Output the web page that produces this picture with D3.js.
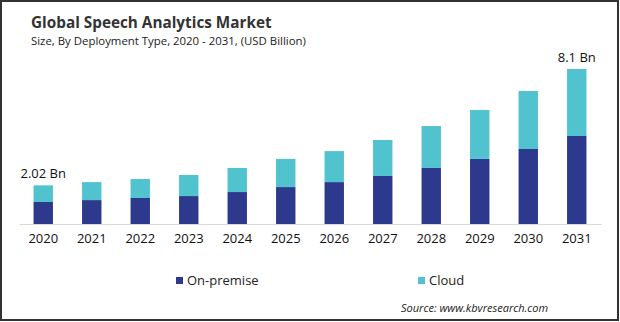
<!DOCTYPE html>
<html>
<head>
<meta charset="utf-8">
<script src="https://cdn.jsdelivr.net/npm/d3@7"></script>
<style>
  html, body { margin: 0; padding: 0; background: #fff; }
  svg { display: block; }
  text { font-family: "Open Sans", "Noto Sans", sans-serif; fill: #111; }
</style>
</head>
<body>
<svg id="chart" width="620" height="322"></svg>
<script>
const years = ["2020","2021","2022","2023","2024","2025","2026","2027","2028","2029","2030","2031"];
const onPremise = [1.15, 1.25, 1.36, 1.46, 1.67, 1.93, 2.19, 2.51, 2.93, 3.40, 3.92, 4.60];
const cloud     = [0.87, 0.94, 0.99, 1.10, 1.26, 1.47, 1.62, 1.88, 2.19, 2.56, 3.03, 3.50];
const seriesNames = ["On-premise", "Cloud"];
const seriesColors = ["#2d398c", "#50c3cf"];
const endLabels = [{ year: "2020", text: "2.02 Bn" }, { year: "2031", text: "8.1 Bn" }];

const svg = d3.select("#chart");
const W = 620, H = 322;

// border
svg.append("rect").attr("x", 1).attr("y", 1).attr("width", W - 3).attr("height", H - 3)
  .attr("fill", "none").attr("stroke", "#333").attr("stroke-width", 2);

// titles
svg.append("text").attr("x", 31).attr("y", 28)
  .attr("font-size", 15.3).attr("font-weight", 700).style("fill", "#333")
  .text("Global Speech Analytics Market");
svg.append("text").attr("x", 31).attr("y", 45)
  .attr("font-size", 11.4).style("fill", "#222")
  .text("Size, By Deployment Type,  2020 - 2031, (USD Billion)");

const data = years.map((y, i) => ({ year: y, "On-premise": onPremise[i], "Cloud": cloud[i] }));
const stack = d3.stack().keys(seriesNames)(data);

const x = d3.scaleBand().domain(years).range([19, 601]).paddingInner(0.6).paddingOuter(0.3);
const y = d3.scaleLinear().domain([0, 8.1]).range([224, 69]);

// bars
svg.append("g").selectAll("g").data(stack).join("g")
  .attr("fill", (d, i) => seriesColors[i])
  .selectAll("rect").data(d => d).join("rect")
  .attr("x", d => x(d.data.year))
  .attr("width", x.bandwidth())
  .attr("y", d => y(d[1]))
  .attr("height", d => y(d[0]) - y(d[1]));

// axis
const axis = d3.axisBottom(x).tickSize(0).tickPadding(10);
const gx = svg.append("g").attr("transform", `translate(0,${y(0)})`).call(axis);
gx.select(".domain").attr("stroke", "#d9d9d9").attr("stroke-width", 1);
gx.selectAll("text").attr("font-size", 13).style("fill", "#111")
  .style("font-family", '"Open Sans", "Noto Sans", sans-serif');

// end labels
const totals = years.map((yr, i) => onPremise[i] + cloud[i]);
svg.append("g").selectAll("text").data(endLabels).join("text")
  .attr("x", d => x(d.year) + x.bandwidth() / 2)
  .attr("y", d => y(totals[years.indexOf(d.year)]) - 7)
  .attr("text-anchor", "middle").attr("font-size", 13)
  .text(d => d.text);

// legend
const legendX = [176, 418];
const lg = svg.append("g").selectAll("g").data(seriesNames).join("g")
  .attr("transform", (d, i) => `translate(${legendX[i]},277)`);
lg.append("rect").attr("width", 7).attr("height", 7).attr("fill", (d, i) => seriesColors[i]);
lg.append("text").attr("x", 11).attr("y", 7.5).attr("font-size", 13).style("fill", "#222").text(d => d);

// source
svg.append("text").attr("x", 401).attr("y", 312)
  .attr("font-size", 11).attr("font-style", "italic").style("fill", "#222")
  .text("Source: www.kbvresearch.com");
</script>
</body>
</html>
